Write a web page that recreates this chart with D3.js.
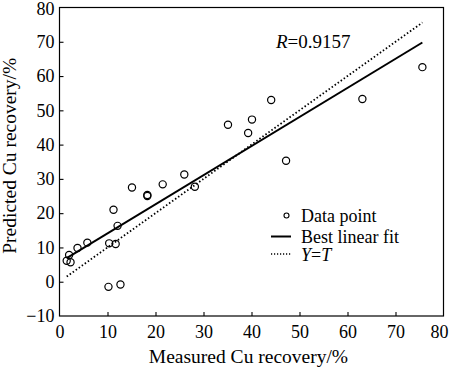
<!DOCTYPE html>
<html>
<head>
<meta charset="utf-8">
<script src="https://cdn.jsdelivr.net/npm/d3@7"></script>
<style>
  html, body { margin: 0; padding: 0; background: #fff; }
  svg text { font-family: "Liberation Serif", "Times New Roman", serif !important; fill: #000; }
</style>
</head>
<body>
<svg id="chart" width="450" height="371"></svg>
<script>
// Data
const measured = [1.5, 2.0, 2.3, 3.75, 5.8, 10.2, 10.35, 11.25, 11.7, 12.1, 12.7, 15.1, 18.3, 18.3, 21.5, 26.0, 28.2, 35.1, 39.3, 40.1, 44.1, 47.2, 63.1, 75.6];
const predicted = [6.1, 7.8, 5.7, 9.85, 11.4, -1.5, 11.2, 21.0, 11.0, 16.3, -0.8, 27.5, 25.3, 25.0, 28.4, 31.3, 27.7, 45.8, 43.4, 47.3, 53.0, 35.3, 53.3, 62.6];
const fitSlope = 0.849;
const fitIntercept = 5.6;
const xTicks = [0, 10, 20, 30, 40, 50, 60, 70, 80];
const yTicks = [-10, 0, 10, 20, 30, 40, 50, 60, 70, 80];
const legendLabels = ["Data point", "Best linear fit", "Y=T"];
const rText = "0.9157";

const svg = d3.select("#chart");
const L = 59.5, R = 443.5, T = 7.5, B = 316;
const x = d3.scaleLinear().domain([0, 80]).range([L, R]);
const y = d3.scaleLinear().domain([-10, 80]).range([B, T]);
const serif = '"Liberation Serif", "Times New Roman", serif';

// frame
svg.append("rect").attr("x", L).attr("y", T).attr("width", R - L).attr("height", B - T)
  .attr("fill", "none").attr("stroke", "#000").attr("stroke-width", 1.2);

// axes with inward ticks
const xAxis = d3.axisBottom(x).tickValues(xTicks).tickSizeInner(-4).tickSizeOuter(0).tickPadding(9);
const gx = svg.append("g").attr("transform", `translate(0,${B})`).call(xAxis).attr("font-family", serif).attr("font-size", 18);
gx.select(".domain").remove();
gx.selectAll("text").style("font-family", serif).style("font-size", "18px").attr("dy", "0.71em");
gx.selectAll(".tick").filter(d => d === 80).select("text").attr("text-anchor", "end").attr("x", 4.5);
gx.selectAll("line").attr("stroke-width", 1.1);
gx.selectAll(".tick").filter(d => d === 0 || d === 80).select("line").remove();

const yAxis = d3.axisLeft(y).tickValues(yTicks).tickSizeInner(-4).tickSizeOuter(0).tickPadding(5);
const gy = svg.append("g").attr("transform", `translate(${L},0)`).call(yAxis).attr("font-family", serif).attr("font-size", 18);
gy.select(".domain").remove();
gy.selectAll("text").style("font-family", serif).style("font-size", "18px").text(d => d < 0 ? "\u221210" : d);
gy.selectAll(".tick").filter(d => d === 80).select("text").attr("dy", "0.38em");
gy.selectAll("line").attr("stroke-width", 1.1);
gy.selectAll(".tick").filter(d => d === -10 || d === 80).select("line").remove();

// axis titles
svg.append("text").attr("x", (L + R) / 2 - 3).attr("y", 363).attr("text-anchor", "middle")
  .style("font-size", "19.5px").text("Measured Cu recovery/%");
svg.append("text").attr("transform", `translate(16,${(T + B) / 2 - 6}) rotate(-90)`).attr("text-anchor", "middle")
  .style("font-size", "19.5px").text("Predicted Cu recovery/%");

const xmin = d3.min(measured), xmax = d3.max(measured);
// Y=T dotted line
svg.append("line").attr("x1", x(xmin)).attr("y1", y(xmin)).attr("x2", x(xmax)).attr("y2", y(xmax))
  .attr("stroke", "#000").attr("stroke-width", 1.8).attr("stroke-dasharray", "1.5,2.2");
// best fit
svg.append("line").attr("x1", x(xmin)).attr("y1", y(fitSlope * xmin + fitIntercept))
  .attr("x2", x(xmax)).attr("y2", y(fitSlope * xmax + fitIntercept))
  .attr("stroke", "#000").attr("stroke-width", 2);

// points
svg.append("g").selectAll("circle").data(measured.map((m, i) => [m, predicted[i]])).join("circle")
  .attr("cx", d => x(d[0])).attr("cy", d => y(d[1])).attr("r", 3.6)
  .attr("fill", "none").attr("stroke", "#000").attr("stroke-width", 1.2);

// R text
const rt = svg.append("text").attr("x", 276).attr("y", 48).style("font-size", "19px");
rt.append("tspan").attr("font-style", "italic").text("R");
rt.append("tspan").text("=" + rText);

// legend
const lg = svg.append("g");
lg.append("circle").attr("cx", 286.5).attr("cy", 215.5).attr("r", 2.5).attr("fill", "none").attr("stroke", "#000").attr("stroke-width", 1.1);
lg.append("text").attr("x", 301).attr("y", 222).style("font-size", "18px").text(legendLabels[0]);
lg.append("line").attr("x1", 271).attr("x2", 291).attr("y1", 236.5).attr("y2", 236.5).attr("stroke", "#000").attr("stroke-width", 2);
lg.append("text").attr("x", 301).attr("y", 242.5).style("font-size", "18px").text(legendLabels[1]);
lg.append("line").attr("x1", 271).attr("x2", 291).attr("y1", 254).attr("y2", 254).attr("stroke", "#000").attr("stroke-width", 1.5).attr("stroke-dasharray", "1.2,1.8");
const yt = lg.append("text").attr("x", 301).attr("y", 261).style("font-size", "18px");
yt.append("tspan").attr("font-style", "italic").text("Y");
yt.append("tspan").text("=");
yt.append("tspan").attr("font-style", "italic").text("T");
</script>
</body>
</html>
